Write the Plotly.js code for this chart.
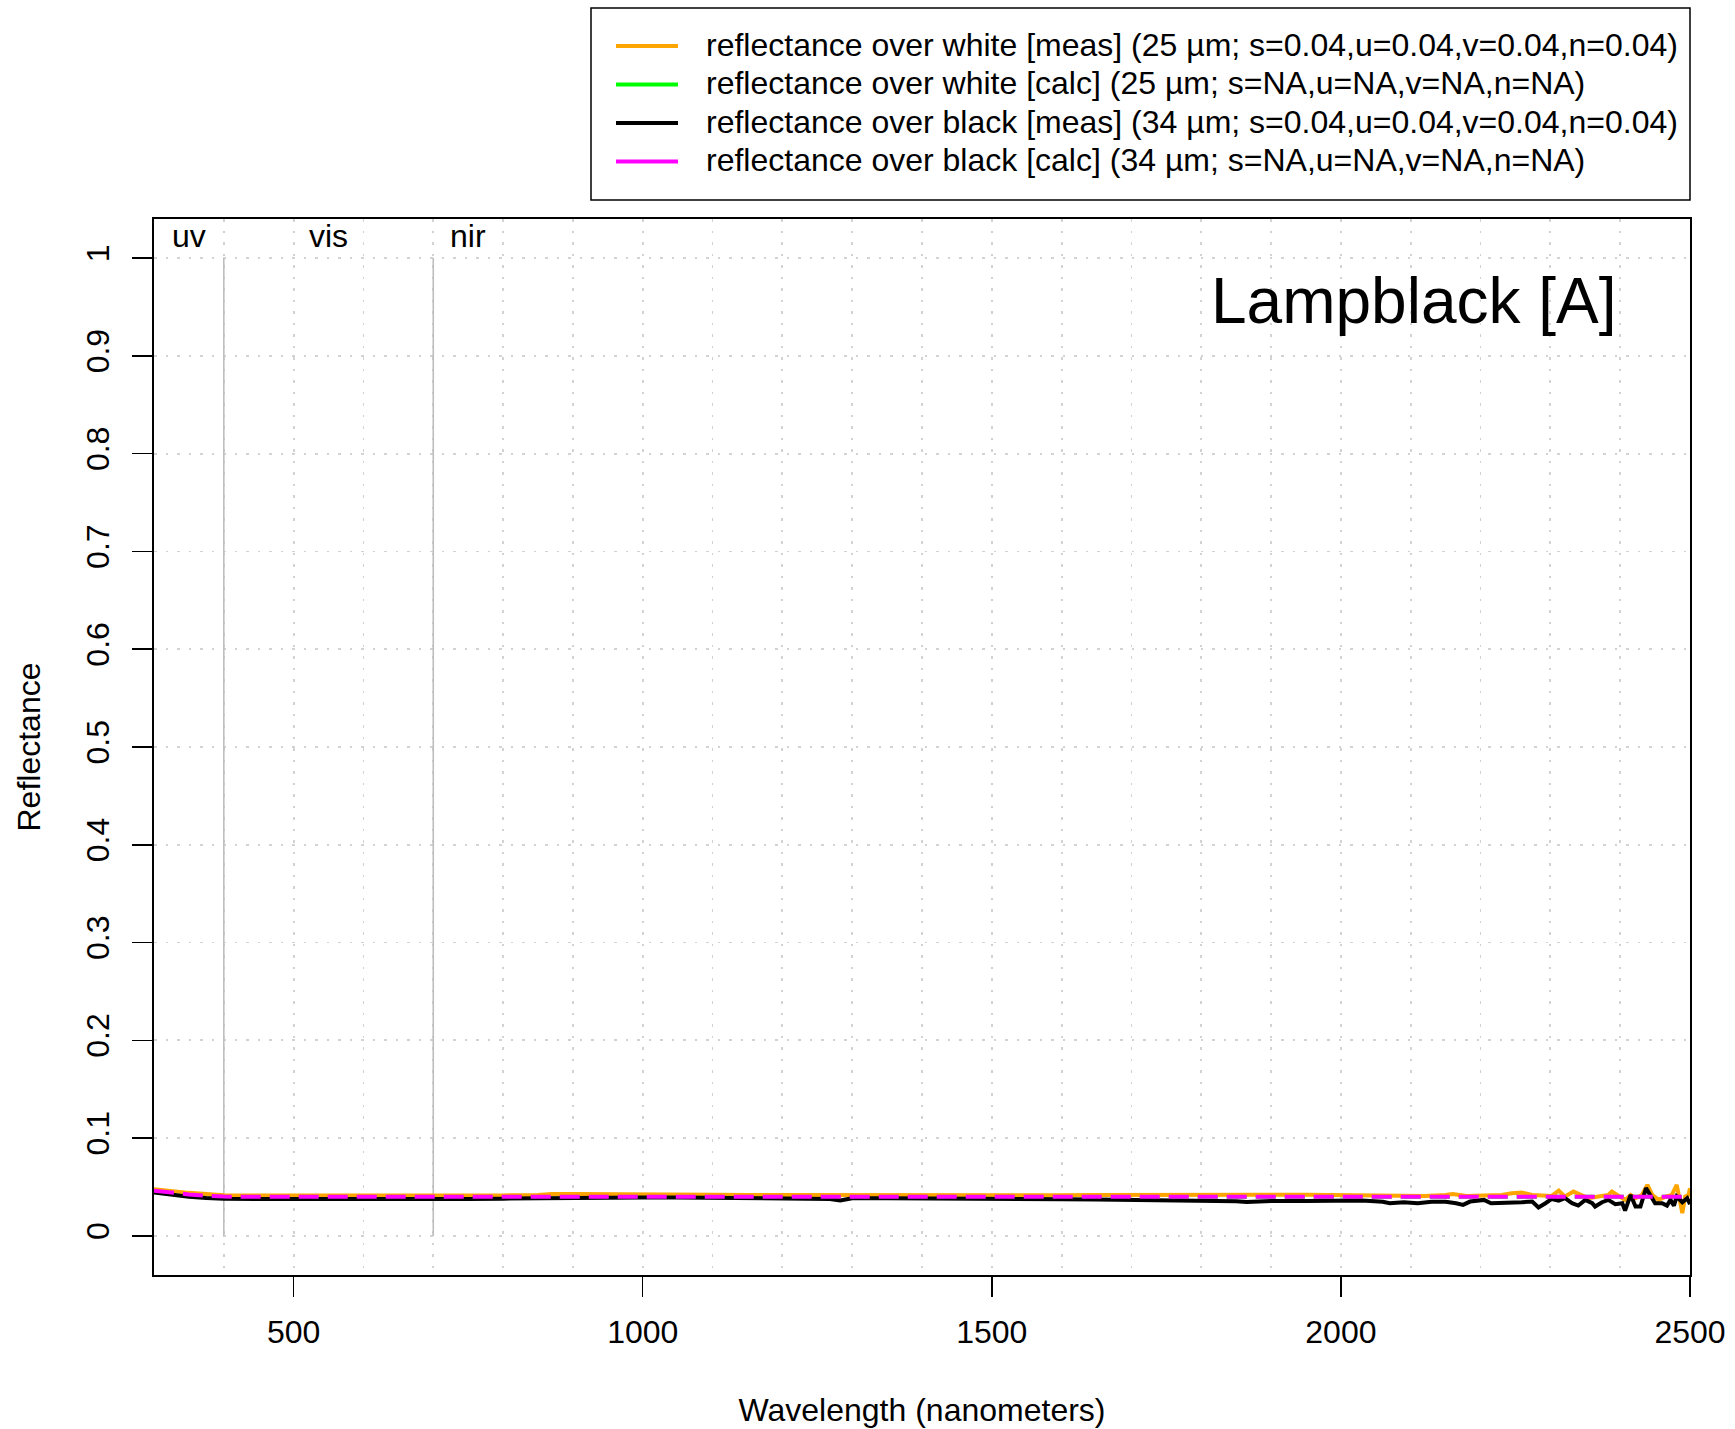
<!DOCTYPE html>
<html>
<head>
<meta charset="utf-8">
<script src="https://cdn.plot.ly/plotly-3.0.1.min.js"></script>
<style>
  html, body { margin: 0; padding: 0; background: #ffffff; }
  #chart { width: 1735px; height: 1429px; }
</style>
</head>
<body>
<div id="chart"></div>
<script>
// Lampblack [A] — spectral reflectance of a drawdown over white and black substrates

// Reflectance over white, measured
const wlWhiteMeas = [300,325,350,375,400,450,500,550,600,650,700,750,800,850,870,900,950,1000,1050,1100,
  1150,1200,1250,1280,1300,1350,1400,1450,1500,1550,1600,1650,1700,1750,1800,1850,1890,1910,1950,2000,
  2030,2060,2090,2120,2150,2160,2180,2205,2230,2245,2259,2274,2288,2302,2312,2321,2333,2345,2355,2369,
  2383,2388,2398,2407,2415,2422,2431,2439,2446,2455,2465,2474,2481,2486,2489,2493,2498,2500];
const reflWhiteMeas = [0.0478,0.0455,0.0440,0.0428,0.0416,0.0413,0.0412,0.0412,0.0412,0.0413,
  0.0413,0.0413,0.0414,0.0418,0.0428,0.0428,0.0424,0.0424,0.0422,0.0420,
  0.0419,0.0418,0.0416,0.0412,0.0416,0.0418,0.0418,0.0415,0.0414,0.0414,
  0.0415,0.0417,0.0419,0.0420,0.0420,0.0419,0.0429,0.0421,0.0421,0.0419,
  0.0412,0.0419,0.0419,0.0409,0.0419,0.0429,0.0409,0.0419,0.0419,0.0436,
  0.0443,0.0419,0.0409,0.0409,0.0463,0.0402,0.0453,0.0419,0.0385,0.0402,
  0.0419,0.0453,0.0402,0.0368,0.0419,0.0385,0.0419,0.0521,0.0419,0.0368,
  0.0402,0.0419,0.0521,0.0334,0.0232,0.0402,0.0419,0.0488];

// Reflectance over black, measured
const wlBlackMeas = [300,325,350,375,400,450,500,550,600,650,700,750,800,850,900,950,1000,1050,1100,1150,
  1200,1250,1268,1283,1300,1350,1400,1450,1500,1550,1600,1650,1700,1750,1800,1850,1865,1900,1950,2000,
  2030,2060,2070,2090,2110,2130,2150,2165,2175,2185,2205,2215,2230,2245,2259,2274,2283,2293,2302,2312,
  2321,2331,2340,2350,2360,2364,2374,2383,2393,2403,2407,2415,2422,2429,2437,2443,2450,2460,2467,2472,
  2477,2481,2489,2496,2500];
const reflBlackMeas = [0.0445,0.0420,0.0400,0.0388,0.0380,0.0376,0.0375,0.0375,0.0375,0.0375,
  0.0376,0.0378,0.0381,0.0385,0.0393,0.0393,0.0392,0.0392,0.0390,0.0388,
  0.0385,0.0383,0.0378,0.0362,0.0384,0.0385,0.0385,0.0382,0.0382,0.0378,
  0.0375,0.0372,0.0368,0.0366,0.0362,0.0355,0.0346,0.0358,0.0357,0.0356,
  0.0361,0.0348,0.0334,0.0344,0.0334,0.0348,0.0348,0.0334,0.0317,0.0351,
  0.0368,0.0334,0.0334,0.0334,0.0344,0.0351,0.0290,0.0334,0.0378,0.0361,
  0.0385,0.0334,0.0310,0.0368,0.0334,0.0300,0.0344,0.0368,0.0324,0.0334,
  0.0259,0.0419,0.0300,0.0300,0.0488,0.0419,0.0334,0.0334,0.0310,0.0368,
  0.0310,0.0402,0.0344,0.0385,0.0324];

// Calculated reflectance (white and black substrates)
const wlCalc = [300,325,350,375,400,450,500,600,700,800,900,1000,1100,1200,1300,1400,1500,1600,1700,
  1800,1900,2000,2100,2200,2300,2400,2500];
const reflWhiteCalc = [0.0462,0.0440,0.0424,0.0410,0.0402,0.0400,0.0400,0.0400,0.0400,0.0400,0.0400,
  0.0400,0.0400,0.0400,0.0400,0.0400,0.0400,0.0400,0.0400,0.0400,0.0400,0.0400,0.0400,0.0400,0.0400,
  0.0400,0.0400];
const reflBlackCalc = [0.0462,0.0440,0.0424,0.0410,0.0402,0.0400,0.0400,0.0400,0.0400,0.0400,0.0400,
  0.0400,0.0400,0.0400,0.0400,0.0400,0.0400,0.0400,0.0400,0.0400,0.0400,0.0400,0.0400,0.0400,0.0400,
  0.0400,0.0400];

// Spectral regions
const bandEdges = [400, 700];
const bandLabels = ['uv', 'vis', 'nir'];
const bandLabelX = [350, 550, 750];

const seriesNames = [
  'reflectance over white [meas] (25 µm; s=0.04,u=0.04,v=0.04,n=0.04)',
  'reflectance over white [calc] (25 µm; s=NA,u=NA,v=NA,n=NA)',
  'reflectance over black [meas] (34 µm; s=0.04,u=0.04,v=0.04,n=0.04)',
  'reflectance over black [calc] (34 µm; s=NA,u=NA,v=NA,n=NA)'
];
const seriesColors = ['#FFA500', '#00FF00', '#000000', '#FF00FF'];

const chartTitle = 'Lampblack [A]';
const FONT = 'Liberation Sans, Arial, Helvetica, sans-serif';
const LW = 4;
const DASH = '20px,9px';

// vertical lines that separate the spectral regions
const bandX = [], bandY = [];
bandEdges.forEach(e => { bandX.push(e, e, null); bandY.push(0, 1, null); });

const traces = [
  { x: bandX, y: bandY, mode: 'lines', line: { color: '#BEBEBE', width: 1.6 },
    showlegend: false, hoverinfo: 'skip' },
  { x: wlCalc, y: reflWhiteCalc, mode: 'lines', name: seriesNames[1],
    line: { color: seriesColors[1], width: LW, dash: DASH }, showlegend: false },
  { x: wlWhiteMeas, y: reflWhiteMeas, mode: 'lines', name: seriesNames[0],
    line: { color: seriesColors[0], width: LW }, showlegend: false },
  { x: wlBlackMeas, y: reflBlackMeas, mode: 'lines', name: seriesNames[2],
    line: { color: seriesColors[2], width: LW }, showlegend: false },
  { x: wlCalc, y: reflBlackCalc, mode: 'lines', name: seriesNames[3],
    line: { color: seriesColors[3], width: LW, dash: DASH }, showlegend: false }
];

// plot area in pixels (used to place the legend box in paper units)
const M = { l: 154, r: 45, t: 219, b: 154 };
const W = 1735, H = 1429;
const PW = W - M.l - M.r, PH = H - M.t - M.b;
const px = v => (v - M.l) / PW;
const py = v => (H - M.b - v) / PH;

const shapes = [];
const annotations = [];

// legend box
shapes.push({ type: 'rect', xref: 'paper', yref: 'paper',
  x0: px(591), x1: px(1690), y0: py(200), y1: py(8),
  line: { color: '#000000', width: 1.5 }, fillcolor: '#ffffff', layer: 'above' });
const legendRows = [45, 83.5, 122, 160.5];
seriesNames.forEach((name, i) => {
  shapes.push({ type: 'line', xref: 'paper', yref: 'paper',
    x0: px(616), x1: px(678), y0: py(legendRows[i] + 1), y1: py(legendRows[i] + 1),
    line: { color: seriesColors[i], width: LW }, layer: 'above' });
  annotations.push({ xref: 'paper', yref: 'paper', x: px(704), y: py(legendRows[i]),
    xanchor: 'left', yanchor: 'middle', text: name, showarrow: false,
    font: { family: FONT, size: 32, color: '#000000' } });
});

// region labels
bandLabels.forEach((t, i) => {
  annotations.push({ xref: 'x', yref: 'y', x: bandLabelX[i], y: 1.023,
    xanchor: 'center', yanchor: 'middle', text: t, showarrow: false,
    font: { family: FONT, size: 32, color: '#000000' } });
});

// pigment name
annotations.push({ xref: 'paper', yref: 'paper', x: px(1619), y: py(301),
  xanchor: 'right', yanchor: 'middle', text: chartTitle, showarrow: false,
  font: { family: FONT, size: 64, color: '#000000' } });

const gridStyle = { showgrid: true, gridcolor: '#D3D3D3', griddash: '2.5px,9px', gridwidth: 1.8 };

const layout = {
  width: W, height: H,
  margin: M,
  paper_bgcolor: '#ffffff', plot_bgcolor: '#ffffff',
  font: { family: FONT, size: 32, color: '#000000' },
  showlegend: false,
  xaxis: Object.assign({
    range: [300, 2500], tickmode: 'linear', tick0: 0, dtick: 500,
    ticks: 'outside', ticklen: 20, tickwidth: 1.5, tickcolor: '#000000',
    showline: true, linewidth: 2, linecolor: '#000000', mirror: true,
    zeroline: false, tickfont: { family: FONT, size: 32 }, ticklabelstandoff: 8,
    minor: Object.assign({ dtick: 100, ticks: '' }, gridStyle),
    title: { text: 'Wavelength (nanometers)', font: { family: FONT, size: 32 }, standoff: 49 }
  }, gridStyle),
  yaxis: Object.assign({
    range: [-0.04, 1.04], tickmode: 'linear', tick0: 0, dtick: 0.1,
    ticks: 'outside', ticklen: 20, tickwidth: 1.5, tickcolor: '#000000',
    showline: true, linewidth: 2, linecolor: '#000000', mirror: true,
    zeroline: false, tickangle: -90, tickfont: { family: FONT, size: 32 }, ticklabelstandoff: 10,
    title: { text: 'Reflectance', font: { family: FONT, size: 32 }, standoff: 30 }
  }, gridStyle),
  shapes: shapes,
  annotations: annotations
};

Plotly.newPlot('chart', traces, layout, { displayModeBar: false, staticPlot: true });
</script>
</body>
</html>
